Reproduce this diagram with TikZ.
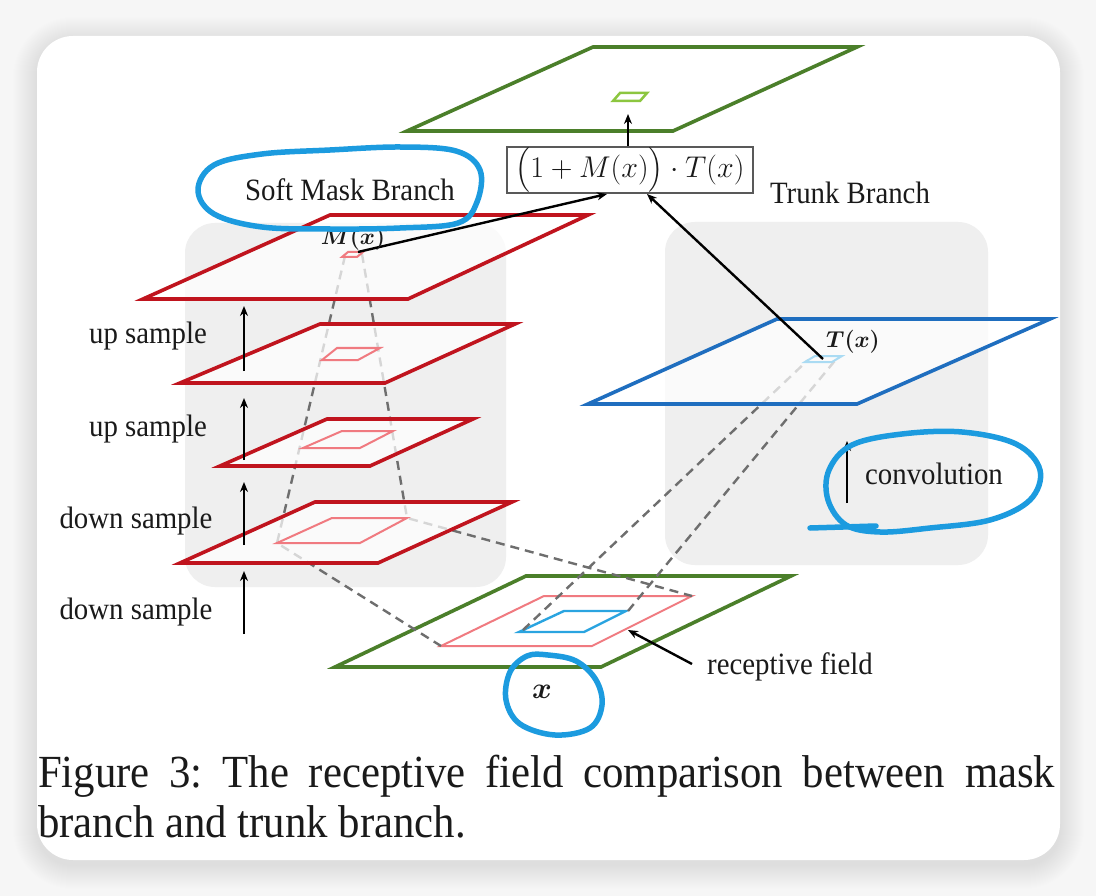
\RequirePackage{fix-cm}
\documentclass[tikz,border=0pt]{standalone}
\usepackage{amsmath}
\usepackage{fontspec}
\setmainfont[FakeStretch=0.93]{Liberation Serif}
\usetikzlibrary{arrows.meta}
\definecolor{bgout}{HTML}{F6F6F6}
\definecolor{panelgray}{HTML}{EFEFEF}
\definecolor{mred}{HTML}{C0141E}
\definecolor{lred}{HTML}{F07A80}
\definecolor{mgreen}{HTML}{4B7F2A}
\definecolor{lgreen}{HTML}{8CC63F}
\definecolor{mblue}{HTML}{1F6EBF}
\definecolor{cyanb}{HTML}{2AA4E0}
\definecolor{inkblue}{HTML}{1C9BDF}
\definecolor{dashgray}{HTML}{6E6E6E}
\definecolor{txt}{HTML}{1A1A1A}
\tikzset{
  layerred/.style={draw=mred, line width=3.6pt, fill=white, fill opacity=0.72},
  layergreen/.style={draw=mgreen, line width=3.6pt, fill=white, fill opacity=0.72},
  layerblue/.style={draw=mblue, line width=3.6pt, fill=white, fill opacity=0.72},
  innerred/.style={draw=lred, line width=2pt},
  projline/.style={draw=dashgray, line width=2.4pt, dash pattern=on 9pt off 6pt},
  upar/.style={draw=black, line width=2.4pt, -{Stealth[length=10pt,width=8pt]}},
  lbl/.style={font=\fontsize{31}{35}\selectfont, text=txt, inner sep=0pt},
  ink/.style={draw=inkblue, line width=5.5pt, line cap=round, line join=round},
}
\begin{document}
\begin{tikzpicture}[x=1pt,y=-1pt]
\useasboundingbox (0,0) rectangle (1096,896);
% background and card with soft shadow
\fill[bgout] (0,0) rectangle (1096,896);
\foreach \d in {1,...,24}{
  \fill[black, opacity=0.0055, rounded corners=36pt+\d pt] (37-\d,36-\d+5) rectangle (1060+\d,860+\d+5);
}
\fill[white, rounded corners=36pt] (37,36) rectangle (1060,860);
% gray panels
\fill[panelgray, rounded corners=30pt] (185,223) rectangle (506,587);
\fill[panelgray, rounded corners=30pt] (665,222) rectangle (988,565);

% input layer (x)
\draw[layergreen, fill opacity=1] (526,576) -- (791,576) -- (601,667) -- (335,667) -- cycle;
\draw[innerred] (544,596) -- (692,596) -- (592,646) -- (441,646) -- cycle;
\draw[draw=cyanb, line width=2.4pt] (564,611) -- (626,611) -- (584,632) -- (519,632) -- cycle;

% named corner coordinates
\coordinate (m1l) at (345,256);
\coordinate (m1r) at (362,254);
\coordinate (m4l) at (277,543);
\coordinate (m4r) at (407,518);
\coordinate (rfl) at (441,646);
\coordinate (rfr) at (692,596);
\coordinate (bl) at (523,630);
\coordinate (br) at (628,611);
\coordinate (tl) at (808,360);
\coordinate (tr) at (838,357);

% projection dashed lines
\draw[projline] (m1l) -- (m4l) -- (rfl);
\draw[projline] (m1r) -- (m4r) -- (rfr);
\draw[projline] (bl) -- (tl);
\draw[projline] (br) -- (tr);

% mask branch layers
\draw[layerred] (315,502) -- (512,502) -- (378,563) -- (180,563) -- cycle;
\draw[innerred] (332,518) -- (407,518) -- (360,543) -- (277,543) -- cycle;
\draw[layerred] (327,419) -- (473,419) -- (370,466) -- (220,466) -- cycle;
\draw[innerred] (342,431) -- (393,431) -- (360,448) -- (303,448) -- cycle;
\draw[layerred] (320,324) -- (515,324) -- (385,383) -- (180,383) -- cycle;
\draw[innerred] (337,348) -- (380,348) -- (358,360) -- (322,360) -- cycle;
\draw[layerred] (330,215) -- (588,215) -- (408,299) -- (143,299) -- cycle;
\draw[innerred] (348,252) -- (363,252) -- (357,257) -- (342,257) -- cycle;

% trunk layer
\draw[layerblue] (777,319) -- (1050,319) -- (857,404) -- (588,404) -- cycle;
\draw[draw=cyanb!40, line width=2pt] (815,356) -- (842,356) -- (832,362) -- (805,362) -- cycle;

% output layer
\draw[layergreen, fill opacity=1] (593,47) -- (857,47) -- (673,131) -- (407,131) -- cycle;
\draw[draw=lgreen, line width=2.5pt] (620,93) -- (647,93) -- (640,101) -- (613,101) -- cycle;
\coordinate (outsq) at (628,114);

% formula box
\node[draw=black!65, line width=1.6pt, minimum width=246pt, minimum height=46pt, inner sep=0pt,
      text=txt, font=\fontsize{30}{34}\selectfont] (box) at (630,170) {$\big(1+M(x)\big)\cdot T(x)$};
\draw[upar] (box.north -| outsq) -- (outsq);
\coordinate (boxm) at (607,194);
\coordinate (boxt) at (647,194);
\coordinate (msrc) at (358,252);
\coordinate (tsrc) at (823,359);
\draw[line width=2.4pt, -{Stealth[length=10pt,width=8pt]}] (msrc) -- (boxm);
\draw[line width=2.4pt, -{Stealth[length=10pt,width=8pt]}] (tsrc) -- (boxt);

% labels
\node[lbl] (soft) at (350,190) {Soft Mask Branch};
\node[lbl] (trunk) at (850,193) {Trunk Branch};
\node[inner sep=0pt, text=txt, font=\fontsize{23}{25}\selectfont] (mx) at (353,239) {$\boldsymbol{M(x)}$};
\node[inner sep=0pt, text=txt, font=\fontsize{23}{25}\selectfont] (tx) at (853,342) {$\boldsymbol{T(x)}$};
\node[inner sep=0pt, text=txt, font=\fontsize{30}{32}\selectfont] (xin) at (542,692) {$\boldsymbol{x}$};
\node[lbl] (up1) at (148,336) {up sample};
\node[lbl] (up2) at (148,429) {up sample};
\node[lbl] (dn1) at (136,521) {down sample};
\node[lbl] (dn2) at (136,612) {down sample};
\node[lbl] (conv) at (934,474) {convolution};
\node[lbl] (rf) at (790,667) {receptive field};

% side arrows
\coordinate (a1s) at (244,371); \coordinate (a1e) at (244,306);
\coordinate (a2s) at (244,460); \coordinate (a2e) at (244,398);
\coordinate (a3s) at (244,545); \coordinate (a3e) at (244,482);
\coordinate (a4s) at (244,634); \coordinate (a4e) at (244,571);
\coordinate (cs) at (847,503); \coordinate (ce) at (847,441);
\draw[upar] (a1s) -- (a1e);
\draw[upar] (a2s) -- (a2e);
\draw[upar] (a3s) -- (a3e);
\draw[upar] (a4s) -- (a4e);
\draw[upar] (cs) -- (ce);
% receptive field pointer
\coordinate (rfp) at (628,630);
\coordinate (rfs) at (692,664);
\draw[line width=2.4pt, -{Stealth[length=10pt,width=8pt]}] (rfs) -- (rfp);

% hand-drawn blue annotations
\draw[ink] plot[smooth cycle, tension=0.6] coordinates {(198,190) (214,165) (262,154) (330,150) (400,147) (456,151) (480,170) (477,202) (458,223) (400,228) (330,229) (262,227) (214,214)};
\draw[ink] plot[smooth cycle, tension=0.6] coordinates {(829,470) (852,445) (902,434) (962,432) (1016,444) (1040,470) (1030,500) (990,520) (930,528) (880,532) (846,525) (828,500)};
\draw[ink] (810,528) -- (876,526);
\draw[ink] plot[smooth cycle, tension=0.6] coordinates {(527,656) (510,672) (506,700) (520,724) (555,735) (590,728) (602,705) (596,680) (576,661) (548,655)};

% caption
\node[anchor=base west, inner sep=0pt, text=txt, font=\fontsize{46}{52}\selectfont] (cap1) at (38,787)
  {\makebox[1017pt][s]{Figure 3:\ The receptive field comparison between mask}};
\node[anchor=base west, inner sep=0pt, text=txt, font=\fontsize{46}{52}\selectfont] (cap2) at (38,837)
  {branch and trunk branch.};
\end{tikzpicture}
\end{document}
